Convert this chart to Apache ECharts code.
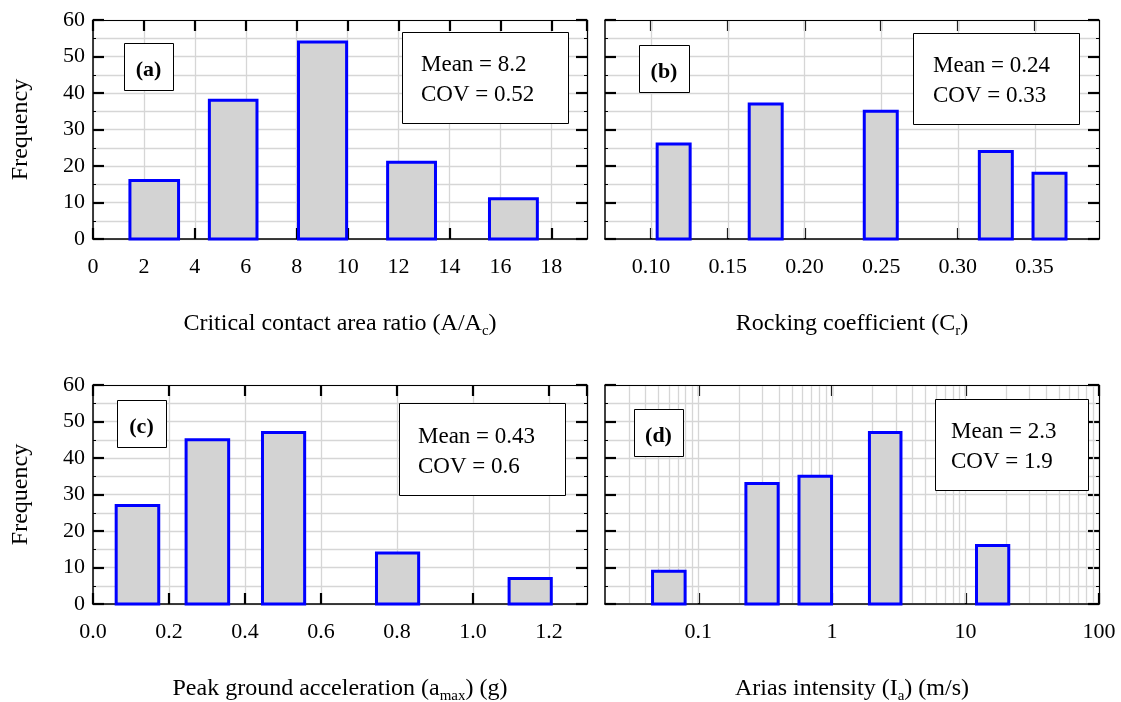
<!DOCTYPE html>
<html>
<head>
<meta charset="utf-8">
<script src="https://cdn.jsdelivr.net/npm/echarts@6/dist/echarts.min.js"></script>
<style>
  html, body { margin: 0; padding: 0; background: #ffffff; }
  #chart { width: 1121px; height: 702px; }
</style>
</head>
<body>
<div id="chart"></div>
<script>
// Histogram bins for each parameter: [lower edge, upper edge] and the bin frequency
const contactEdges = [[1.45, 3.36], [4.57, 6.44], [8.07, 9.96], [11.57, 13.45], [15.57, 17.45]];
const contactFreq = [16, 38, 54, 21, 11];

const rockingEdges = [[0.104, 0.1255], [0.164, 0.1855], [0.239, 0.2605], [0.314, 0.3355], [0.349, 0.3705]];
const rockingFreq = [26, 37, 35, 24, 18];

const pgaEdges = [[0.061, 0.173], [0.245, 0.357], [0.446, 0.557], [0.746, 0.857], [1.095, 1.206]];
const pgaFreq = [27, 45, 47, 14, 7];

const ariasEdges = [[0.0454, 0.0796], [0.227, 0.396], [0.567, 0.994], [1.91, 3.29], [12.1, 21.1]];
const ariasFreq = [9, 33, 35, 47, 16];

// Tick values of the x axes
const rockingTicks = [0.10, 0.15, 0.20, 0.25, 0.30, 0.35];
const ariasTicks = [0.1, 1, 10, 100];
// Grid lines of the Arias intensity axis inside each decade
const ariasGrid = [0.03, 0.04, 0.05, 0.06, 0.07, 0.08, 0.09, 0.1,
                   0.2, 0.3, 0.4, 0.5, 0.6, 0.7, 0.8, 0.9, 1,
                   2, 3, 4, 5, 6, 7, 8, 9, 10,
                   20, 30, 40, 50, 60, 70, 80, 90];

// Panel tags and summary statistics
const panelTags = ['(a)', '(b)', '(c)', '(d)'];
const meanValues = ['8.2', '0.24', '0.43', '2.3'];
const covValues = ['0.52', '0.33', '0.6', '1.9'];

const FONT = '"Liberation Serif", "DejaVu Serif", serif';
const GRID_COLOR = '#d6d6d6';

const chart = echarts.init(document.getElementById('chart'), null, { renderer: 'canvas' });

const grids = [
  { left: 93, top: 20, width: 494, height: 219 },
  { left: 605, top: 20, width: 494, height: 219 },
  { left: 93, top: 385, width: 494, height: 219 },
  { left: 605, top: 385, width: 494, height: 219 }
].map(g => Object.assign({ containLabel: false, outerBoundsMode: 'none', show: false }, g));

const nameRich = {
  m: { fontFamily: FONT, fontSize: 24, lineHeight: 30, color: '#000', verticalAlign: 'middle' },
  s: { fontFamily: FONT, fontSize: 15, lineHeight: 15, color: '#000', verticalAlign: 'bottom' }
};

const tickStyle = { color: '#000', width: 2.2 };
const labelStyle = { fontFamily: FONT, fontSize: 22, color: '#000', margin: 17 };

function bottomAxis(gridIndex, cfg) {
  return Object.assign({
    gridIndex: gridIndex,
    position: 'bottom',
    nameLocation: 'middle',
    nameGap: 70,
    nameMoveOverlap: false,
    nameTextStyle: { rich: nameRich },
    axisLine: { show: true, onZero: false, lineStyle: { color: '#000', width: 1.5 } },
    axisTick: { show: true, inside: true, length: 11, lineStyle: tickStyle },
    axisLabel: Object.assign({ show: true }, labelStyle),
    splitLine: { show: true, lineStyle: { color: GRID_COLOR, width: 1.3 } }
  }, cfg);
}

function topAxis(gridIndex, cfg) {
  return Object.assign({
    gridIndex: gridIndex,
    position: 'top',
    axisLine: { show: true, onZero: false, lineStyle: { color: '#000', width: 1.2 } },
    axisTick: { show: true, inside: true, length: 11, lineStyle: tickStyle },
    axisLabel: { show: false },
    splitLine: { show: false }
  }, cfg);
}

function leftAxis(gridIndex, withLabels) {
  return {
    gridIndex: gridIndex,
    type: 'value',
    position: 'left',
    min: 0, max: 60, interval: 10,
    name: withLabels ? 'Frequency' : '',
    nameLocation: 'middle',
    nameGap: 60,
    nameMoveOverlap: false,
    nameTextStyle: { fontFamily: FONT, fontSize: 24, color: '#000' },
    axisLine: { show: true, onZero: false, lineStyle: { color: '#000', width: 1.5 } },
    axisTick: { show: true, inside: true, length: 11, lineStyle: tickStyle },
    minorTick: { show: true, splitNumber: 2, length: 3, lineStyle: { color: '#000', width: 1 } },
    axisLabel: { show: withLabels, fontFamily: FONT, fontSize: 22, color: '#000', margin: 8 },
    splitLine: { show: true, lineStyle: { color: GRID_COLOR, width: 1.3 } },
    minorSplitLine: { show: true, lineStyle: { color: GRID_COLOR, width: 1.3 } }
  };
}

function rightAxis(gridIndex) {
  return {
    gridIndex: gridIndex,
    type: 'value',
    position: 'right',
    min: 0, max: 60, interval: 10,
    axisLine: { show: true, onZero: false, lineStyle: { color: '#000', width: 1.2 } },
    axisTick: { show: true, inside: true, length: 11, lineStyle: tickStyle },
    minorTick: { show: true, splitNumber: 2, length: 3, lineStyle: { color: '#000', width: 1 } },
    axisLabel: { show: false },
    splitLine: { show: false }
  };
}

const xAxes = [
  bottomAxis(0, { type: 'value', min: 0, max: 19.4, interval: 2,
    name: '{m|Critical contact area ratio (A/A}{s|c}{m|)}',
    axisLabel: Object.assign({ showMaxLabel: false }, labelStyle) }),
  topAxis(0, { type: 'value', min: 0, max: 19.4, interval: 2 }),

  bottomAxis(1, { type: 'value', min: 0.07, max: 0.392,
    name: '{m|Rocking coefficient (C}{s|r}{m|)}',
    axisTick: { show: true, inside: true, length: 11, customValues: rockingTicks, lineStyle: tickStyle },
    axisLabel: Object.assign({ show: true, customValues: rockingTicks, formatter: v => (+v).toFixed(2) }, labelStyle),
    splitLine: { show: false } }),
  topAxis(1, { type: 'value', min: 0.07, max: 0.392,
    axisTick: { show: true, inside: true, length: 11, customValues: rockingTicks, lineStyle: tickStyle } }),

  bottomAxis(2, { type: 'value', min: 0, max: 1.3, interval: 0.2,
    name: '{m|Peak ground acceleration (a}{s|max}{m|) (g)}',
    axisLabel: Object.assign({ showMaxLabel: false, formatter: v => (+v).toFixed(1) }, labelStyle) }),
  topAxis(2, { type: 'value', min: 0, max: 1.3, interval: 0.2 }),

  bottomAxis(3, { type: 'log', logBase: 10, min: 0.02, max: 100,
    name: '{m|Arias intensity (I}{s|a}{m|) (m/s)}',
    axisTick: { show: true, inside: true, length: 11, customValues: ariasTicks, lineStyle: tickStyle },
    axisLabel: Object.assign({ show: true, customValues: ariasTicks,
      formatter: v => String(+(+v).toPrecision(3)) }, labelStyle),
    splitLine: { show: false } }),
  topAxis(3, { type: 'log', logBase: 10, min: 0.02, max: 100,
    axisTick: { show: true, inside: true, length: 11, customValues: ariasTicks, lineStyle: tickStyle } })
];

const yAxes = [
  leftAxis(0, true), rightAxis(0),
  leftAxis(1, false), rightAxis(1),
  leftAxis(2, true), rightAxis(2),
  leftAxis(3, false), rightAxis(3)
];

// Histogram bar drawn from its two bin edges and frequency through the axis scales
function renderBin(params, api) {
  const base = api.coord([api.value(0), 0]);
  const top = api.coord([api.value(1), api.value(2)]);
  return {
    type: 'rect',
    shape: { x: base[0], y: top[1], width: top[0] - base[0], height: base[1] - top[1] },
    style: { fill: '#d3d3d3', stroke: '#0000ff', lineWidth: 3 }
  };
}

// Vertical grid line from the bottom to the top of the frequency range
function renderGridLine(params, api) {
  const p0 = api.coord([api.value(0), api.value(1)]);
  const p1 = api.coord([api.value(0), api.value(2)]);
  const x = Math.round(p0[0]) + 0.5;
  return {
    type: 'line',
    shape: { x1: x, y1: p0[1] - 1, x2: x, y2: p1[1] + 1 },
    style: { stroke: GRID_COLOR, lineWidth: 1.3 }
  };
}

function binSeries(gridIndex, edges, freq) {
  return {
    type: 'custom',
    xAxisIndex: gridIndex * 2,
    yAxisIndex: gridIndex * 2,
    renderItem: renderBin,
    encode: { x: [0, 1], y: 2 },
    clip: false,
    z: 3,
    data: edges.map((e, i) => [e[0], e[1], freq[i]])
  };
}

function gridLineSeries(gridIndex, values) {
  return {
    type: 'custom',
    xAxisIndex: gridIndex * 2,
    yAxisIndex: gridIndex * 2,
    renderItem: renderGridLine,
    encode: { x: 0, y: [1, 2] },
    silent: true,
    clip: false,
    z: 1,
    data: values.map(v => [v, 0, 60])
  };
}

const series = [
  gridLineSeries(1, rockingTicks),
  gridLineSeries(3, ariasGrid),
  binSeries(0, contactEdges, contactFreq),
  binSeries(1, rockingEdges, rockingFreq),
  binSeries(2, pgaEdges, pgaFreq),
  binSeries(3, ariasEdges, ariasFreq)
];

// Panel tag boxes and statistics boxes
const tagBoxes = [
  { x: 124, y: 43, w: 49, h: 47 },
  { x: 639, y: 45, w: 50, h: 47 },
  { x: 117, y: 400, w: 49, h: 47 },
  { x: 634, y: 409, w: 49, h: 47 }
];
const statBoxes = [
  { x: 402, y: 32, w: 166, h: 91, tx: 421, ty: 65 },
  { x: 913, y: 33, w: 166, h: 91, tx: 933, ty: 66 },
  { x: 399, y: 403, w: 166, h: 92, tx: 418, ty: 437 },
  { x: 935, y: 399, w: 153, h: 91, tx: 951, ty: 432 }
];

const graphics = [];
tagBoxes.forEach((b, i) => {
  graphics.push({
    type: 'rect', z: 10,
    shape: { x: b.x + 0.5, y: b.y + 0.5, width: b.w, height: b.h },
    style: { fill: '#fff', stroke: '#000', lineWidth: 1 }
  });
  graphics.push({
    type: 'text', z: 11,
    style: {
      text: panelTags[i], x: b.x + b.w / 2, y: b.y + b.h / 2 + 4,
      fontFamily: FONT, fontSize: 22, fontWeight: 'bold', fill: '#000',
      align: 'center', verticalAlign: 'middle'
    }
  });
});
statBoxes.forEach((b, i) => {
  graphics.push({
    type: 'rect', z: 10,
    shape: { x: b.x + 0.5, y: b.y + 0.5, width: b.w, height: b.h },
    style: { fill: '#fff', stroke: '#000', lineWidth: 1 }
  });
  graphics.push({
    type: 'text', z: 11,
    style: {
      text: 'Mean = ' + meanValues[i] + '\nCOV = ' + covValues[i],
      x: b.tx, y: b.ty - 15,
      fontFamily: FONT, fontSize: 23, lineHeight: 30, fill: '#000',
      align: 'left', verticalAlign: 'top'
    }
  });
});

chart.setOption({
  animation: false,
  backgroundColor: '#ffffff',
  grid: grids,
  xAxis: xAxes,
  yAxis: yAxes,
  series: series,
  graphic: graphics
});
</script>
</body>
</html>
